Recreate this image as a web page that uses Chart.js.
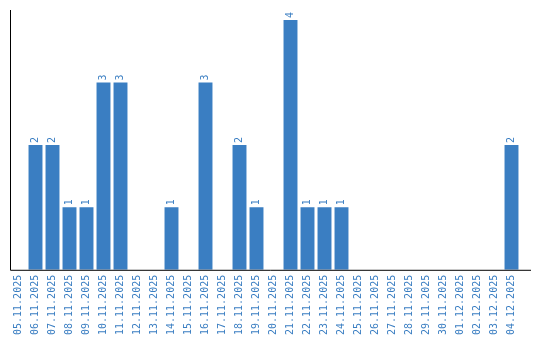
<!DOCTYPE html>
<html>
<head>
<meta charset="utf-8">
<script src="https://cdn.jsdelivr.net/npm/chart.js@4/dist/chart.umd.min.js"></script>
<style>
  html, body { margin: 0; padding: 0; background: #fff; }
  #wrap { width: 540px; height: 340px; position: relative; }
</style>
</head>
<body>
<div id="wrap"><canvas id="chart"></canvas></div>
<script>
// daily counts, 05.11.2025 .. 04.12.2025
const dates = [
  '05.11.2025', '06.11.2025', '07.11.2025', '08.11.2025', '09.11.2025',
  '10.11.2025', '11.11.2025', '12.11.2025', '13.11.2025', '14.11.2025',
  '15.11.2025', '16.11.2025', '17.11.2025', '18.11.2025', '19.11.2025',
  '20.11.2025', '21.11.2025', '22.11.2025', '23.11.2025', '24.11.2025',
  '25.11.2025', '26.11.2025', '27.11.2025', '28.11.2025', '29.11.2025',
  '30.11.2025', '01.12.2025', '02.12.2025', '03.12.2025', '04.12.2025'
];
const counts = [0, 2, 2, 1, 1, 3, 3, 0, 0, 1, 0, 3, 0, 2, 1, 0, 4, 1, 1, 1, 0, 0, 0, 0, 0, 0, 0, 0, 0, 2];
const yMax = 4.16;

const BLUE = '#3a7ec2';
const FONT = "10px 'DejaVu Sans Mono', monospace";

// axis lines + rotated value labels on top of bars
const extras = {
  id: 'extras',
  afterDraw(chart) {
    const ctx = chart.ctx;
    const area = chart.chartArea;
    ctx.save();
    ctx.strokeStyle = '#000';
    ctx.lineWidth = 1;
    ctx.beginPath();
    ctx.moveTo(area.left + 0.5, area.top);
    ctx.lineTo(area.left + 0.5, area.bottom + 0.5);
    ctx.lineTo(area.right + 11, area.bottom + 0.5);
    ctx.stroke();

    ctx.fillStyle = BLUE;
    ctx.font = FONT;
    ctx.textAlign = 'left';
    ctx.textBaseline = 'middle';
    const meta = chart.getDatasetMeta(0);
    meta.data.forEach((bar, i) => {
      if (!counts[i]) return;
      ctx.save();
      ctx.translate(bar.x, bar.y - 2);
      ctx.rotate(-Math.PI / 2);
      ctx.fillText(String(counts[i]), 0, 0);
      ctx.restore();
    });
    ctx.restore();
  }
};

new Chart(document.getElementById('chart'), {
  type: 'bar',
  data: {
    labels: dates,
    datasets: [{
      data: counts,
      backgroundColor: BLUE,
      categoryPercentage: 1,
      barPercentage: 0.82
    }]
  },
  options: {
    responsive: true,
    maintainAspectRatio: false,
    animation: false,
    layout: { padding: { left: 10, right: 20, top: 10, bottom: 0 } },
    plugins: { legend: { display: false }, tooltip: { enabled: false } },
    scales: {
      x: {
        grid: { display: false, drawTicks: false },
        border: { display: false },
        ticks: {
          autoSkip: false,
          minRotation: 90,
          maxRotation: 90,
          padding: 5,
          color: BLUE,
          font: { family: "'DejaVu Sans Mono', monospace", size: 10 }
        }
      },
      y: {
        display: false,
        min: 0,
        max: yMax
      }
    }
  },
  plugins: [extras]
});
</script>
</body>
</html>
